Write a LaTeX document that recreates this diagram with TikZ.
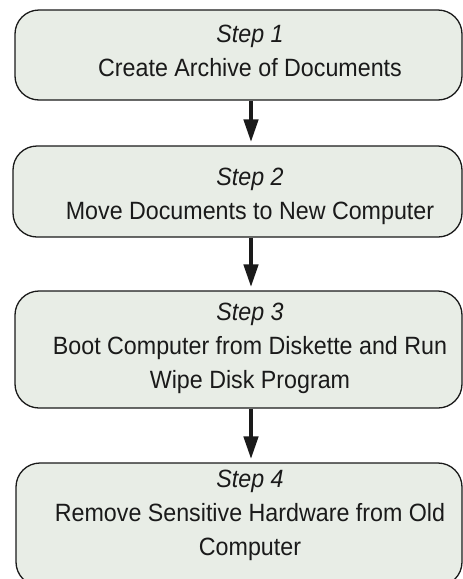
\documentclass[tikz,border=0pt]{standalone}
\usepackage{fontspec}
\setmainfont[FakeStretch=0.93]{Liberation Sans}
\usetikzlibrary{arrows.meta}
\definecolor{boxfill}{RGB}{232,237,230}
\definecolor{inkgray}{RGB}{26,26,26}
\begin{document}
\begin{tikzpicture}[x=1pt, y=-1pt,
        stepbox/.style={draw=inkgray, fill=boxfill, line width=1.3pt, rounded corners=24pt},
        steptext/.style={align=center, inner sep=0pt, text=inkgray, font=\fontsize{25}{34}\selectfont},
        flowarrow/.style={-{Triangle[width=14pt, length=23pt]}, line width=4.5pt, draw=inkgray, shorten >=3pt}]
            \useasboundingbox (0,0) rectangle (463,579);

            % the boxes run out of the picture on the right, text stays on the arrow line
            \node[stepbox, minimum width=447pt, minimum height=90pt] (step1) at (238.5,55) {};
            \node[steptext] (text1) at (250,51) {\textit{Step 1}\\Create Archive of Documents};

            \node[stepbox, minimum width=449pt, minimum height=91pt] (step2) at (237.5,191.5) {};
            \node[steptext] (text2) at (250,196) {\textit{Step 2}\\Move Documents to New Computer};

            \node[stepbox, minimum width=447pt, minimum height=117pt] (step3) at (238.5,349.5) {};
            \node[steptext] (text3) at (250,348.5) {\textit{Step 3}\\Boot Computer from Diskette and Run\\Wipe Disk Program};

            \node[stepbox, minimum width=446pt, minimum height=123pt] (step4) at (239,524.5) {};
            \node[steptext] (text4) at (250,515.5) {\textit{Step 4}\\Remove Sensitive Hardware from Old\\Computer};

            \coordinate (axis) at (251,0);
            \draw[flowarrow] (step1.south -| axis) -- (step2.north -| axis);
            \draw[flowarrow] (step2.south -| axis) -- (step3.north -| axis);
            \draw[flowarrow] (step3.south -| axis) -- (step4.north -| axis);
\end{tikzpicture}
\end{document}
